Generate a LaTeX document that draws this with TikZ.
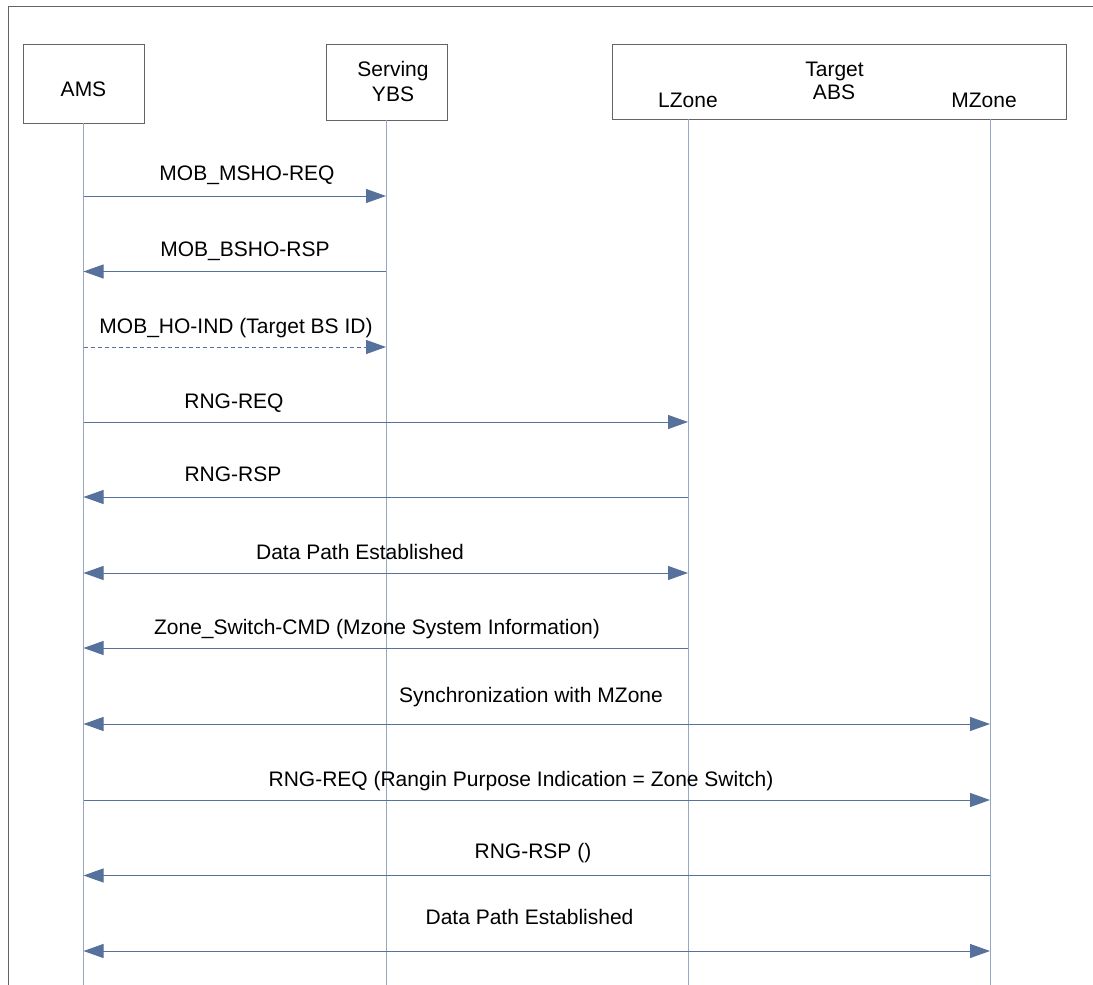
\documentclass[tikz,border=0pt]{standalone}
\usepackage{fontspec}
\setmainfont{Liberation Sans}
\usetikzlibrary{arrows.meta}
\definecolor{lineblue}{RGB}{86,113,156}
\definecolor{lifeblue}{RGB}{150,168,196}
\definecolor{boxgray}{RGB}{100,100,100}

\begin{document}
\begin{tikzpicture} [x=1pt, y=-1pt,
                    every node/.style={font=\fontsize{21}{25}\selectfont, inner sep=0pt},
                    lbl/.style={anchor=base},
                    box/.style={draw=boxgray, line width=1pt, anchor=north west},
                    life/.style={draw=lifeblue, line width=1pt},
                    msg/.style={draw=lineblue, line width=1pt, -{Triangle[length=20pt,width=14pt]}},
                    msgboth/.style={msg, {Triangle[length=20pt,width=14pt]}-{Triangle[length=20pt,width=14pt]}},
                    msgdash/.style={msg, dash pattern=on 4pt off 3pt}]
                    \useasboundingbox (0,0) rectangle (1093,985);
                    % frame
                    \draw[draw=boxgray, line width=1pt] (1093,6.5) -- (8,6.5) -- (8,985);
                    % entities
                    \node[box, minimum width=121, minimum height=79] (ams) at (23,44) {};
                    \node[box, minimum width=121, minimum height=76] (ybs) at (326,44) {};
                    \node[box, minimum width=454, minimum height=75] (abs) at (612,44) {};
                    \node[lbl] (amslbl) at (83.5,96.5) {AMS};
                    \node[lbl] (ybslbl1) at (393,76.5) {Serving};
                    \node[lbl] (ybslbl2) at (393,101.5) {YBS};
                    \node[lbl] (abslbl1) at (834.5,76.5) {Target};
                    \node[lbl] (abslbl2) at (834,99.5) {ABS};
                    \node[lbl] (lzlbl) at (688,107.5) {LZone};
                    \node[lbl] (mzlbl) at (984,107.5) {MZone};
                    % lifelines
                    \coordinate (l1) at (83.5,123);
                    \coordinate (l2) at (386,120);
                    \coordinate (l3) at (688,119);
                    \coordinate (l4) at (990,119);
                    \coordinate (bot) at (0,985);
                    \draw[life] (l1) -- (l1 |- bot);
                    \draw[life] (l2) -- (l2 |- bot);
                    \draw[life] (l3) -- (l3 |- bot);
                    \draw[life] (l4) -- (l4 |- bot);
                    % message rows
                    \coordinate (r1) at (0,196);
                    \coordinate (r2) at (0,271.5);
                    \coordinate (r3) at (0,347);
                    \coordinate (r4) at (0,422);
                    \coordinate (r5) at (0,497);
                    \coordinate (r6) at (0,573);
                    \coordinate (r7) at (0,648);
                    \coordinate (r8) at (0,724);
                    \coordinate (r9) at (0,800);
                    \coordinate (r10) at (0,875.5);
                    \coordinate (r11) at (0,951);
                    \draw[msg] (l1 |- r1) -- (l2 |- r1);
                    \draw[msg] (l2 |- r2) -- (l1 |- r2);
                    \draw[msgdash] (l1 |- r3) -- (l2 |- r3);
                    \draw[msg] (l1 |- r4) -- (l3 |- r4);
                    \draw[msg] (l3 |- r5) -- (l1 |- r5);
                    \draw[msgboth] (l1 |- r6) -- (l3 |- r6);
                    \draw[msg] (l3 |- r7) -- (l1 |- r7);
                    \draw[msgboth] (l1 |- r8) -- (l4 |- r8);
                    \draw[msg] (l1 |- r9) -- (l4 |- r9);
                    \draw[msg] (l4 |- r10) -- (l1 |- r10);
                    \draw[msgboth] (l1 |- r11) -- (l4 |- r11);
                    % message labels
                    \node[lbl] (m1) at (247,180.5) {MOB\_MSHO-REQ};
                    \node[lbl] (m2) at (245,256.5) {MOB\_BSHO-RSP};
                    \node[lbl] (m3) at (236,333) {MOB\_HO-IND (Target BS ID)};
                    \node[lbl] (m4) at (234,408) {RNG-REQ};
                    \node[lbl] (m5) at (233,481.5) {RNG-RSP};
                    \node[lbl] (m6) at (360,559.5) {Data Path Established};
                    \node[lbl] (m7) at (377,634.5) {Zone\_Switch-CMD (Mzone System Information)};
                    \node[lbl] (m8) at (531,702.5) {Synchronization with MZone};
                    \node[lbl] (m9) at (521,786.5) {RNG-REQ (Rangin Purpose Indication = Zone Switch)};
                    \node[lbl] (m10) at (533,858.5) {RNG-RSP ()};
                    \node[lbl] (m11) at (529.5,924.5) {Data Path Established};
                \end{tikzpicture}
\end{document}
